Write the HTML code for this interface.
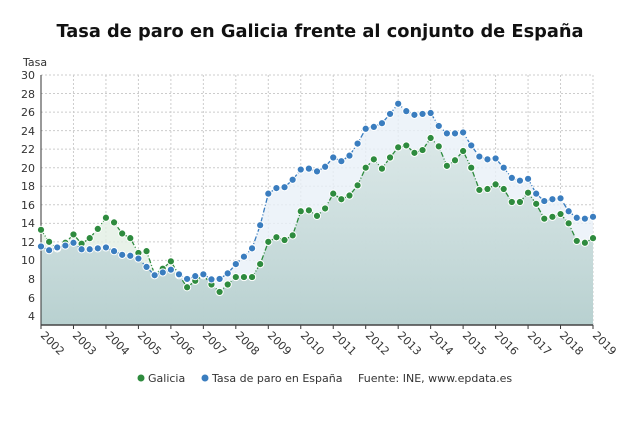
<!DOCTYPE html>
<html><head><meta charset="utf-8"><style>
body{margin:0;background:#fff;font-family:"Liberation Sans","DejaVu Sans",sans-serif;}
svg text{font-family:"DejaVu Sans","Liberation Sans",sans-serif;fill:#333;}
</style></head><body>
<svg id="s" width="639" height="431" viewBox="0 0 639 431" xmlns="http://www.w3.org/2000/svg">
<defs>
<linearGradient id="gb" x1="0" y1="0" x2="0" y2="1"><stop offset="0" stop-color="#dfe9f0" stop-opacity="0.5"/><stop offset="1" stop-color="#a9c6c8" stop-opacity="0.75"/></linearGradient>
</defs>
<text x="320" y="37" text-anchor="middle" font-size="17.8" font-weight="bold" style="fill:#111">Tasa de paro en Galicia frente al conjunto de España</text>
<text x="23" y="66" font-size="11">Tasa</text>
<g id="grid"></g>
<g id="ylab" font-size="11" text-anchor="end">
<text x="35" y="79">30</text><text x="35" y="98">28</text><text x="35" y="116">26</text><text x="35" y="135">24</text><text x="35" y="153">22</text><text x="35" y="172">20</text><text x="35" y="190">18</text><text x="35" y="209">16</text><text x="35" y="227">14</text><text x="35" y="246">12</text><text x="35" y="264">10</text><text x="35" y="283">8</text><text x="35" y="302">6</text><text x="35" y="320">4</text>
</g>
<g font-size="11">
<text transform="translate(40,336) rotate(45)">2002</text>
<text transform="translate(72,336) rotate(45)">2003</text>
<text transform="translate(105,336) rotate(45)">2004</text>
<text transform="translate(137,336) rotate(45)">2005</text>
<text transform="translate(170,336) rotate(45)">2006</text>
<text transform="translate(202,336) rotate(45)">2007</text>
<text transform="translate(235,336) rotate(45)">2008</text>
<text transform="translate(267,336) rotate(45)">2009</text>
<text transform="translate(300,336) rotate(45)">2010</text>
<text transform="translate(332,336) rotate(45)">2011</text>
<text transform="translate(365,336) rotate(45)">2012</text>
<text transform="translate(397,336) rotate(45)">2013</text>
<text transform="translate(429,336) rotate(45)">2014</text>
<text transform="translate(462,336) rotate(45)">2015</text>
<text transform="translate(494,336) rotate(45)">2016</text>
<text transform="translate(527,336) rotate(45)">2017</text>
<text transform="translate(559,336) rotate(45)">2018</text>
<text transform="translate(592,336) rotate(45)">2019</text>
</g>
<g id="plot"></g>
<g font-size="11">
<circle cx="141" cy="378" r="3.5" fill="#2e8b3e"/><text x="148" y="382">Galicia</text>
<circle cx="205" cy="378" r="3.5" fill="#3a7dbf"/><text x="212" y="382">Tasa de paro en España</text>
<text x="358" y="382">Fuente: INE, www.epdata.es</text>
</g>
</svg>
<script>
var es=[11.5,11.1,11.4,11.6,11.9,11.2,11.2,11.3,11.4,11.0,10.6,10.5,10.2,9.3,8.4,8.7,9.0,8.5,8.0,8.3,8.5,7.95,8.0,8.6,9.6,10.4,11.3,13.8,17.2,17.8,17.9,18.7,19.8,19.9,19.6,20.1,21.1,20.7,21.3,22.6,24.2,24.4,24.8,25.8,26.9,26.1,25.7,25.8,25.9,24.5,23.7,23.7,23.8,22.4,21.2,20.9,21.0,20.0,18.9,18.6,18.8,17.2,16.4,16.6,16.7,15.3,14.6,14.5,14.7];
var ga=[13.3,12.0,11.3,11.9,12.8,11.8,12.4,13.4,14.6,14.1,12.9,12.4,10.8,11.0,8.5,9.1,9.9,8.4,7.1,7.8,8.4,7.4,6.6,7.4,8.2,8.2,8.2,9.6,12.0,12.5,12.2,12.7,15.3,15.4,14.8,15.6,17.2,16.6,17.0,18.1,20.0,20.9,19.9,21.1,22.2,22.4,21.6,21.9,23.2,22.3,20.2,20.8,21.8,20.0,17.6,17.7,18.2,17.7,16.3,16.3,17.3,16.1,14.5,14.7,15.0,14.0,12.1,11.9,12.4];
var X=function(i){return 41+i*552/68},Y=function(v){return 75+(30-v)*9.27};
var ns="http://www.w3.org/2000/svg";
function el(p,t,a){var e=document.createElementNS(ns,t);for(var k in a)e.setAttribute(k,a[k]);p.appendChild(e);return e;}
var g=document.getElementById('grid'),p=document.getElementById('plot');
for(var v=4;v<=30;v+=2)el(g,'line',{x1:41,x2:593,y1:Y(v),y2:Y(v),stroke:'#ccc','stroke-dasharray':'2,2'});
for(var y=0;y<=17;y++){var x=41+y*552/17;el(g,'line',{x1:x,x2:x,y1:75,y2:325,stroke:'#ccc','stroke-dasharray':'2,2'});el(g,'line',{x1:x,x2:x,y1:325,y2:329,stroke:'#333'});}
function pts(d){return d.map(function(v,i){return X(i).toFixed(1)+','+Y(v).toFixed(1)}).join(' ');}
var base=325;
el(p,'polygon',{points:'41,'+base+' '+pts(es)+' 593,'+base,fill:'#e9f0f8',opacity:0.8});
el(p,'polygon',{points:'41,'+base+' '+pts(ga)+' 593,'+base,fill:'#e2efe4',opacity:0.8});
var cp=el(p,'clipPath',{id:'c'});el(cp,'polygon',{points:'41,'+base+' '+pts(es.map(function(v,i){return Math.min(v,ga[i])}))+' 593,'+base});
el(p,'rect',{x:41,y:75,width:552,height:250,fill:'url(#gb)','clip-path':'url(#c)'});
el(p,'line',{x1:41,x2:41,y1:75,y2:325,stroke:'#333'});
el(p,'line',{x1:41,x2:593,y1:325,y2:325,stroke:'#444','stroke-width':1.5});
[[ga,'#2e8b3e'],[es,'#3a7dbf']].forEach(function(s){
el(p,'polyline',{points:pts(s[0]),fill:'none',stroke:s[1],'stroke-width':1.3,'stroke-dasharray':'5,2,1,2'});
s[0].forEach(function(v,i){el(p,'circle',{cx:X(i),cy:Y(v),r:3.6,fill:s[1],stroke:'#fff','stroke-width':1});});
});
</script>
</body></html>
